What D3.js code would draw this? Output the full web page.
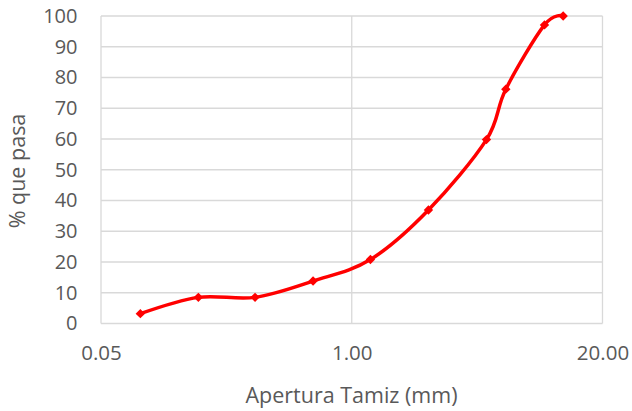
<!DOCTYPE html>
<html>
<head>
<meta charset="utf-8">
<script src="https://cdn.jsdelivr.net/npm/d3@7"></script>
<style>
  body { margin: 0; background: #fff; }
  text { font-family: "Open Sans", sans-serif; fill: #595959; }
</style>
</head>
<body>
<div id="chart"></div>
<script>
// sieve opening (mm) and percent passing
const aperture = [0.08, 0.16, 0.315, 0.63, 1.25, 2.5, 5, 6.3, 10, 12.5];
const passing = [3.2, 8.5, 8.5, 13.8, 20.8, 36.9, 59.8, 76.2, 97.1, 100];
const xTicks = [0.05, 1, 20];
const yTicks = [0, 10, 20, 30, 40, 50, 60, 70, 80, 90, 100];

const w = 632, h = 411;
const padLeft = 101, padRight = 602.5, padTop = 16, padBottom = 323.5;

const svg = d3.select("#chart").append("svg")
  .attr("width", w).attr("height", h);

const x = d3.scaleLog().base(20).domain([0.05, 20]).range([padLeft, padRight]);
const y = d3.scaleLinear().domain([0, 100]).range([padBottom, padTop]);

// grid
svg.append("g").selectAll("line.h").data(yTicks).enter().append("line")
  .attr("x1", padLeft).attr("x2", padRight)
  .attr("y1", d => y(d)).attr("y2", d => y(d))
  .attr("stroke", "#d9d9d9").attr("stroke-width", 1.3);
svg.append("g").selectAll("line.v").data(xTicks).enter().append("line")
  .attr("x1", d => x(d)).attr("x2", d => x(d))
  .attr("y1", padTop).attr("y2", padBottom)
  .attr("stroke", "#d9d9d9").attr("stroke-width", 1.3);

// axis labels
const yAxis = d3.axisLeft(y).tickValues(yTicks).tickSize(0).tickPadding(23.5);
const gy = svg.append("g").attr("transform", `translate(${padLeft},0)`).call(yAxis);
gy.select(".domain").remove();
gy.selectAll("text").style("font-size", "20px").attr("fill", "#595959")
  .style("font-family", "'Open Sans', sans-serif");

const xAxis = d3.axisBottom(x).tickValues(xTicks).tickSize(0).tickPadding(22)
  .tickFormat(d3.format(".2f"));
const gx = svg.append("g").attr("transform", `translate(0,${padBottom})`).call(xAxis);
gx.select(".domain").remove();
gx.selectAll("text").style("font-size", "20.5px").attr("fill", "#595959")
  .style("font-family", "'Open Sans', sans-serif");

// titles
svg.append("text")
  .attr("transform", "translate(25,171) rotate(-90)")
  .attr("text-anchor", "middle")
  .style("font-size", "21.5px")
  .text("% que pasa");
svg.append("text")
  .attr("x", 351.5).attr("y", 403)
  .attr("text-anchor", "middle")
  .style("font-size", "21.5px")
  .text("Apertura Tamiz (mm)");

// curve
const pts = aperture.map((a, i) => [a, passing[i]]);
const line = d3.line()
  .x(d => x(d[0])).y(d => y(d[1]))
  .curve(d3.curveCardinal.tension(0));
svg.append("path").datum(pts)
  .attr("d", line)
  .attr("fill", "none").attr("stroke", "#ff0000").attr("stroke-width", 3.5);

// diamond markers
svg.append("g").selectAll("path.m").data(pts).enter().append("path")
  .attr("d", d3.symbol().type(d3.symbolSquare).size(44))
  .attr("transform", d => `translate(${x(d[0])},${y(d[1])}) rotate(45)`)
  .attr("fill", "#ff0000");
</script>
</body>
</html>
